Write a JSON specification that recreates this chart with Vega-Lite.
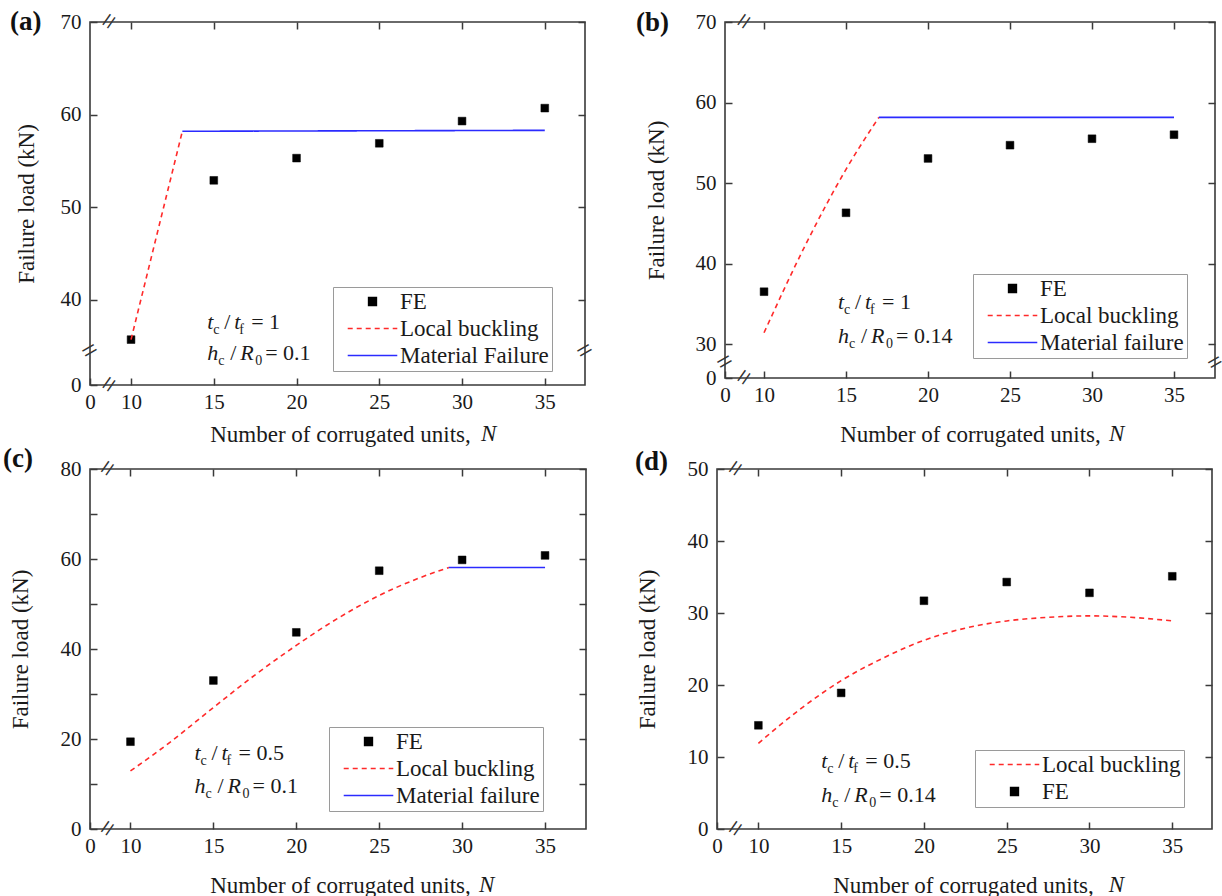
{
  "$schema": "https://vega.github.io/schema/vega-lite/v6.json",
  "padding": {"left": 2, "top": 6, "right": 2, "bottom": 2},
  "spacing": -4,
  "bounds": "full",
  "resolve": {"scale": {"fill": "independent", "stroke": "independent", "shape": "independent", "strokeDash": "independent"}, "legend": {"fill": "independent", "stroke": "independent", "shape": "independent", "strokeDash": "independent"}},
  "vconcat": [
    {
      "spacing": 140,
      "bounds": "flush",
      "resolve": {"scale": {"fill": "independent", "stroke": "independent", "shape": "independent", "strokeDash": "independent"}, "legend": {"fill": "independent", "stroke": "independent", "shape": "independent", "strokeDash": "independent"}},
      "hconcat": [
        {
          "width": 495, "height": 363,
          "title": {"text": "(a)", "dx": -80, "dy": 41, "baseline": "middle", "offset": 0},
          "layer": [
            {
              "data": {"values": [
                {"N": 10, "load": 35.7, "series": "FE"},
                {"N": 15, "load": 52.9, "series": "FE"},
                {"N": 20, "load": 55.3, "series": "FE"},
                {"N": 25, "load": 56.9, "series": "FE"},
                {"N": 30, "load": 59.3, "series": "FE"},
                {"N": 35, "load": 60.7, "series": "FE"}
              ]},
              "mark": {"type": "point", "filled": true, "size": 60, "opacity": 1, "strokeWidth": 0.5},
              "encoding": {
                "x": {"field": "N", "type": "quantitative", "scale": {"domain": [7.52, 37.43], "nice": false, "zero": false},
                      "axis": {"orient": "bottom", "values": [7.52, 10, 15, 20, 25, 30, 35], "labelExpr": "datum.value < 9 ? '0' : datum.label", "title": "Number of corrugated units,", "titleX": 250, "titleY": 49, "titleBaseline": "middle"}},
                "y": {"field": "load", "type": "quantitative", "scale": {"domain": [30.8, 70], "nice": false, "zero": false},
                      "axis": {"orient": "left", "values": [30.8, 40, 50, 60, 70], "labelExpr": "datum.value < 35 ? '0' : datum.label", "title": "Failure load (kN)", "titleX": -64, "titleBaseline": "middle"}},
                "fill": {"field": "series", "type": "nominal", "scale": {"domain": ["FE", "Local buckling", "Material Failure"], "range": ["#000000", "#ff2a2a", "#2b2bff"]}, "legend": {"title": null, "legendX": 243, "legendY": 265}},
                "stroke": {"field": "series", "type": "nominal", "scale": {"domain": ["FE", "Local buckling", "Material Failure"], "range": ["#000000", "#ff2a2a", "#2b2bff"]}, "legend": {"title": null, "legendX": 243, "legendY": 265}},
                "shape": {"field": "series", "type": "nominal", "scale": {"domain": ["FE", "Local buckling", "Material Failure"], "range": ["square", "M-6.4,0H6.4", "M-6.4,0H6.4"]}, "legend": {"title": null, "legendX": 243, "legendY": 265}}
              }
            },
            {
              "data": {"values": [
                {"N": 10, "load": 35.7, "series": "Local buckling"},
                {"N": 13.1, "load": 58.2, "series": "Local buckling"},
                {"N": 13.1, "load": 58.2, "series": "Material Failure"},
                {"N": 35, "load": 58.3, "series": "Material Failure"}
              ]},
              "mark": {"type": "line", "strokeWidth": 1.6, "interpolate": "monotone"},
              "encoding": {
                "x": {"field": "N", "type": "quantitative", "axis": {"orient": "top", "labels": false, "title": null, "values": [10, 15, 20, 25, 30, 35]}},
                "y": {"field": "load", "type": "quantitative", "axis": {"orient": "right", "labels": false, "title": null, "values": [40, 50, 60, 70]}},
                "stroke": {"field": "series", "type": "nominal", "scale": {"domain": ["FE", "Local buckling", "Material Failure"], "range": ["#000000", "#ff2a2a", "#2b2bff"]}, "legend": {"title": null, "legendX": 243, "legendY": 265}},
                "strokeDash": {"field": "series", "type": "nominal", "scale": {"domain": ["FE", "Local buckling", "Material Failure"], "range": [[1, 0], [5, 4], [1, 0]]}, "legend": {"title": null, "legendX": 243, "legendY": 265}}
              }
            },
            {"data": {"values": [{}]}, "mark": {"type": "text", "text": "=", "fontSize": 28, "angle": -55, "align": "center", "baseline": "middle", "color": "#333"}, "encoding": {"x": {"datum": 8.73, "type": "quantitative", "axis": null}, "y": {"datum": 70, "type": "quantitative", "axis": null}}},
            {"data": {"values": [{}]}, "mark": {"type": "text", "text": "=", "fontSize": 28, "angle": -55, "align": "center", "baseline": "middle", "color": "#333"}, "encoding": {"x": {"datum": 8.73, "type": "quantitative", "axis": null}, "y": {"datum": 30.8, "type": "quantitative", "axis": null}}},
            {"data": {"values": [{}]}, "mark": {"type": "text", "text": "=", "fontSize": 28, "angle": -30, "align": "center", "baseline": "middle", "color": "#333"}, "encoding": {"x": {"datum": 7.52, "type": "quantitative", "axis": null}, "y": {"datum": 34.44, "type": "quantitative", "axis": null}}},
            {"data": {"values": [{}]}, "mark": {"type": "text", "text": "=", "fontSize": 28, "angle": -30, "align": "center", "baseline": "middle", "color": "#333"}, "encoding": {"x": {"datum": 37.43, "type": "quantitative", "axis": null}, "y": {"datum": 34.44, "type": "quantitative", "axis": null}}},
            {"data": {"values": [{}]}, "mark": {"type": "text", "text": "N", "fontSize": 23, "fontStyle": "italic", "align": "left", "baseline": "middle", "dy": 49, "color": "#1a1a1a"}, "encoding": {"x": {"datum": 31.15, "type": "quantitative", "axis": null}, "y": {"datum": 30.8, "type": "quantitative", "axis": null}}},
            {"data": {"values": [{}]}, "mark": {"type": "text", "text": "t", "fontSize": 22, "fontStyle": "italic", "align": "left", "baseline": "alphabetic", "color": "#1a1a1a"}, "encoding": {"x": {"datum": 14.6, "type": "quantitative", "axis": null}, "y": {"datum": 36.9, "type": "quantitative", "axis": null}}},
            {"data": {"values": [{}]}, "mark": {"type": "text", "text": "c", "fontSize": 14, "align": "left", "baseline": "alphabetic", "dx": 6, "dy": 5, "color": "#1a1a1a"}, "encoding": {"x": {"datum": 14.6, "type": "quantitative", "axis": null}, "y": {"datum": 36.9, "type": "quantitative", "axis": null}}},
            {"data": {"values": [{}]}, "mark": {"type": "text", "text": "/", "fontSize": 22, "align": "left", "baseline": "alphabetic", "dx": 17, "color": "#1a1a1a"}, "encoding": {"x": {"datum": 14.6, "type": "quantitative", "axis": null}, "y": {"datum": 36.9, "type": "quantitative", "axis": null}}},
            {"data": {"values": [{}]}, "mark": {"type": "text", "text": "t", "fontSize": 22, "fontStyle": "italic", "align": "left", "baseline": "alphabetic", "dx": 27, "color": "#1a1a1a"}, "encoding": {"x": {"datum": 14.6, "type": "quantitative", "axis": null}, "y": {"datum": 36.9, "type": "quantitative", "axis": null}}},
            {"data": {"values": [{}]}, "mark": {"type": "text", "text": "f", "fontSize": 14, "align": "left", "baseline": "alphabetic", "dx": 32, "dy": 5, "color": "#1a1a1a"}, "encoding": {"x": {"datum": 14.6, "type": "quantitative", "axis": null}, "y": {"datum": 36.9, "type": "quantitative", "axis": null}}},
            {"data": {"values": [{}]}, "mark": {"type": "text", "text": "= 1", "fontSize": 22, "align": "left", "baseline": "alphabetic", "dx": 44, "color": "#1a1a1a"}, "encoding": {"x": {"datum": 14.6, "type": "quantitative", "axis": null}, "y": {"datum": 36.9, "type": "quantitative", "axis": null}}},
            {"data": {"values": [{}]}, "mark": {"type": "text", "text": "h", "fontSize": 22, "fontStyle": "italic", "align": "left", "baseline": "alphabetic", "dy": 31, "color": "#1a1a1a"}, "encoding": {"x": {"datum": 14.6, "type": "quantitative", "axis": null}, "y": {"datum": 36.9, "type": "quantitative", "axis": null}}},
            {"data": {"values": [{}]}, "mark": {"type": "text", "text": "c", "fontSize": 14, "align": "left", "baseline": "alphabetic", "dx": 11, "dy": 36, "color": "#1a1a1a"}, "encoding": {"x": {"datum": 14.6, "type": "quantitative", "axis": null}, "y": {"datum": 36.9, "type": "quantitative", "axis": null}}},
            {"data": {"values": [{}]}, "mark": {"type": "text", "text": "/", "fontSize": 22, "align": "left", "baseline": "alphabetic", "dx": 23, "dy": 31, "color": "#1a1a1a"}, "encoding": {"x": {"datum": 14.6, "type": "quantitative", "axis": null}, "y": {"datum": 36.9, "type": "quantitative", "axis": null}}},
            {"data": {"values": [{}]}, "mark": {"type": "text", "text": "R", "fontSize": 22, "fontStyle": "italic", "align": "left", "baseline": "alphabetic", "dx": 33, "dy": 31, "color": "#1a1a1a"}, "encoding": {"x": {"datum": 14.6, "type": "quantitative", "axis": null}, "y": {"datum": 36.9, "type": "quantitative", "axis": null}}},
            {"data": {"values": [{}]}, "mark": {"type": "text", "text": "0", "fontSize": 14, "align": "left", "baseline": "alphabetic", "dx": 48, "dy": 36, "color": "#1a1a1a"}, "encoding": {"x": {"datum": 14.6, "type": "quantitative", "axis": null}, "y": {"datum": 36.9, "type": "quantitative", "axis": null}}},
            {"data": {"values": [{}]}, "mark": {"type": "text", "text": "= 0.1", "fontSize": 22, "align": "left", "baseline": "alphabetic", "dx": 58, "dy": 31, "color": "#1a1a1a"}, "encoding": {"x": {"datum": 14.6, "type": "quantitative", "axis": null}, "y": {"datum": 36.9, "type": "quantitative", "axis": null}}}
          ],
          "resolve": {"axis": {"x": "independent", "y": "independent"}}
        },
        {
          "width": 490, "height": 356,
          "title": {"text": "(b)", "dx": -89, "dy": 42, "baseline": "middle", "offset": 0},
          "layer": [
            {
              "data": {"values": [
                {"N": 10, "load": 36.5, "series": "FE"},
                {"N": 15, "load": 46.3, "series": "FE"},
                {"N": 20, "load": 53.05, "series": "FE"},
                {"N": 25, "load": 54.7, "series": "FE"},
                {"N": 30, "load": 55.5, "series": "FE"},
                {"N": 35, "load": 56.0, "series": "FE"}
              ]},
              "mark": {"type": "point", "filled": true, "size": 60, "opacity": 1, "strokeWidth": 0.5},
              "encoding": {
                "x": {"field": "N", "type": "quantitative", "scale": {"domain": [7.62, 37.5], "nice": false, "zero": false},
                      "axis": {"orient": "bottom", "values": [7.62, 10, 15, 20, 25, 30, 35], "labelExpr": "datum.value < 9 ? '0' : datum.label", "title": "Number of corrugated units,", "titleX": 245, "titleY": 56, "titleBaseline": "middle"}},
                "y": {"field": "load", "type": "quantitative", "scale": {"domain": [25.78, 70], "nice": false, "zero": false},
                      "axis": {"orient": "left", "values": [25.78, 30, 40, 50, 60, 70], "labelExpr": "datum.value < 28 ? '0' : datum.label", "title": "Failure load (kN)", "titleX": -69, "titleBaseline": "middle"}},
                "fill": {"field": "series", "type": "nominal", "scale": {"domain": ["FE", "Local buckling", "Material failure"], "range": ["#000000", "#ff2a2a", "#2b2bff"]}, "legend": {"title": null, "legendX": 248, "legendY": 252}},
                "stroke": {"field": "series", "type": "nominal", "scale": {"domain": ["FE", "Local buckling", "Material failure"], "range": ["#000000", "#ff2a2a", "#2b2bff"]}, "legend": {"title": null, "legendX": 248, "legendY": 252}},
                "shape": {"field": "series", "type": "nominal", "scale": {"domain": ["FE", "Local buckling", "Material failure"], "range": ["square", "M-6.4,0H6.4", "M-6.4,0H6.4"]}, "legend": {"title": null, "legendX": 248, "legendY": 252}}
              }
            },
            {
              "data": {"values": [
                {"N": 10, "load": 31.4, "series": "Local buckling"},
                {"N": 12.5, "load": 42.2, "series": "Local buckling"},
                {"N": 15, "load": 51.7, "series": "Local buckling"},
                {"N": 17, "load": 58.15, "series": "Local buckling"},
                {"N": 17, "load": 58.15, "series": "Material failure"},
                {"N": 35, "load": 58.15, "series": "Material failure"}
              ]},
              "mark": {"type": "line", "strokeWidth": 1.6, "interpolate": "monotone"},
              "encoding": {
                "x": {"field": "N", "type": "quantitative", "axis": {"orient": "top", "labels": false, "title": null, "values": [10, 15, 20, 25, 30, 35]}},
                "y": {"field": "load", "type": "quantitative", "axis": {"orient": "right", "labels": false, "title": null, "values": [30, 40, 50, 60, 70]}},
                "stroke": {"field": "series", "type": "nominal", "scale": {"domain": ["FE", "Local buckling", "Material failure"], "range": ["#000000", "#ff2a2a", "#2b2bff"]}, "legend": {"title": null, "legendX": 248, "legendY": 252}},
                "strokeDash": {"field": "series", "type": "nominal", "scale": {"domain": ["FE", "Local buckling", "Material failure"], "range": [[1, 0], [5, 4], [1, 0]]}, "legend": {"title": null, "legendX": 248, "legendY": 252}}
              }
            },
            {"data": {"values": [{}]}, "mark": {"type": "text", "text": "=", "fontSize": 28, "angle": -55, "align": "center", "baseline": "middle", "color": "#333"}, "encoding": {"x": {"datum": 8.84, "type": "quantitative", "axis": null}, "y": {"datum": 70, "type": "quantitative", "axis": null}}},
            {"data": {"values": [{}]}, "mark": {"type": "text", "text": "=", "fontSize": 28, "angle": -55, "align": "center", "baseline": "middle", "color": "#333"}, "encoding": {"x": {"datum": 8.84, "type": "quantitative", "axis": null}, "y": {"datum": 25.78, "type": "quantitative", "axis": null}}},
            {"data": {"values": [{}]}, "mark": {"type": "text", "text": "=", "fontSize": 28, "angle": -30, "align": "center", "baseline": "middle", "color": "#333"}, "encoding": {"x": {"datum": 7.62, "type": "quantitative", "axis": null}, "y": {"datum": 27.68, "type": "quantitative", "axis": null}}},
            {"data": {"values": [{}]}, "mark": {"type": "text", "text": "=", "fontSize": 26, "angle": -30, "align": "center", "baseline": "middle", "color": "#333"}, "encoding": {"x": {"datum": 37.5, "type": "quantitative", "axis": null}, "y": {"datum": 27.68, "type": "quantitative", "axis": null}}},
            {"data": {"values": [{}]}, "mark": {"type": "text", "text": "N", "fontSize": 23, "fontStyle": "italic", "align": "left", "baseline": "middle", "dy": 56, "color": "#1a1a1a"}, "encoding": {"x": {"datum": 31.04, "type": "quantitative", "axis": null}, "y": {"datum": 25.78, "type": "quantitative", "axis": null}}},
            {"data": {"values": [{}]}, "mark": {"type": "text", "text": "t", "fontSize": 22, "fontStyle": "italic", "align": "left", "baseline": "alphabetic", "color": "#1a1a1a"}, "encoding": {"x": {"datum": 14.51, "type": "quantitative", "axis": null}, "y": {"datum": 34.35, "type": "quantitative", "axis": null}}},
            {"data": {"values": [{}]}, "mark": {"type": "text", "text": "c", "fontSize": 14, "align": "left", "baseline": "alphabetic", "dx": 6, "dy": 5, "color": "#1a1a1a"}, "encoding": {"x": {"datum": 14.51, "type": "quantitative", "axis": null}, "y": {"datum": 34.35, "type": "quantitative", "axis": null}}},
            {"data": {"values": [{}]}, "mark": {"type": "text", "text": "/", "fontSize": 22, "align": "left", "baseline": "alphabetic", "dx": 17, "color": "#1a1a1a"}, "encoding": {"x": {"datum": 14.51, "type": "quantitative", "axis": null}, "y": {"datum": 34.35, "type": "quantitative", "axis": null}}},
            {"data": {"values": [{}]}, "mark": {"type": "text", "text": "t", "fontSize": 22, "fontStyle": "italic", "align": "left", "baseline": "alphabetic", "dx": 27, "color": "#1a1a1a"}, "encoding": {"x": {"datum": 14.51, "type": "quantitative", "axis": null}, "y": {"datum": 34.35, "type": "quantitative", "axis": null}}},
            {"data": {"values": [{}]}, "mark": {"type": "text", "text": "f", "fontSize": 14, "align": "left", "baseline": "alphabetic", "dx": 32, "dy": 5, "color": "#1a1a1a"}, "encoding": {"x": {"datum": 14.51, "type": "quantitative", "axis": null}, "y": {"datum": 34.35, "type": "quantitative", "axis": null}}},
            {"data": {"values": [{}]}, "mark": {"type": "text", "text": "= 1", "fontSize": 22, "align": "left", "baseline": "alphabetic", "dx": 44, "color": "#1a1a1a"}, "encoding": {"x": {"datum": 14.51, "type": "quantitative", "axis": null}, "y": {"datum": 34.35, "type": "quantitative", "axis": null}}},
            {"data": {"values": [{}]}, "mark": {"type": "text", "text": "h", "fontSize": 22, "fontStyle": "italic", "align": "left", "baseline": "alphabetic", "dy": 34, "color": "#1a1a1a"}, "encoding": {"x": {"datum": 14.51, "type": "quantitative", "axis": null}, "y": {"datum": 34.35, "type": "quantitative", "axis": null}}},
            {"data": {"values": [{}]}, "mark": {"type": "text", "text": "c", "fontSize": 14, "align": "left", "baseline": "alphabetic", "dx": 11, "dy": 39, "color": "#1a1a1a"}, "encoding": {"x": {"datum": 14.51, "type": "quantitative", "axis": null}, "y": {"datum": 34.35, "type": "quantitative", "axis": null}}},
            {"data": {"values": [{}]}, "mark": {"type": "text", "text": "/", "fontSize": 22, "align": "left", "baseline": "alphabetic", "dx": 23, "dy": 34, "color": "#1a1a1a"}, "encoding": {"x": {"datum": 14.51, "type": "quantitative", "axis": null}, "y": {"datum": 34.35, "type": "quantitative", "axis": null}}},
            {"data": {"values": [{}]}, "mark": {"type": "text", "text": "R", "fontSize": 22, "fontStyle": "italic", "align": "left", "baseline": "alphabetic", "dx": 33, "dy": 34, "color": "#1a1a1a"}, "encoding": {"x": {"datum": 14.51, "type": "quantitative", "axis": null}, "y": {"datum": 34.35, "type": "quantitative", "axis": null}}},
            {"data": {"values": [{}]}, "mark": {"type": "text", "text": "0", "fontSize": 14, "align": "left", "baseline": "alphabetic", "dx": 48, "dy": 39, "color": "#1a1a1a"}, "encoding": {"x": {"datum": 14.51, "type": "quantitative", "axis": null}, "y": {"datum": 34.35, "type": "quantitative", "axis": null}}},
            {"data": {"values": [{}]}, "mark": {"type": "text", "text": "= 0.14", "fontSize": 22, "align": "left", "baseline": "alphabetic", "dx": 58, "dy": 34, "color": "#1a1a1a"}, "encoding": {"x": {"datum": 14.51, "type": "quantitative", "axis": null}, "y": {"datum": 34.35, "type": "quantitative", "axis": null}}}
          ],
          "resolve": {"axis": {"x": "independent", "y": "independent"}}
        }
      ]
    },
    {
      "spacing": 131,
      "bounds": "flush",
      "resolve": {"scale": {"fill": "independent", "stroke": "independent", "shape": "independent", "strokeDash": "independent"}, "legend": {"fill": "independent", "stroke": "independent", "shape": "independent", "strokeDash": "independent"}},
      "hconcat": [
        {
          "width": 496, "height": 360,
          "title": {"text": "(c)", "dx": -87, "dy": 31, "baseline": "middle", "offset": 0},
          "layer": [
            {
              "data": {"values": [
                {"N": 10, "load": 19.4, "series": "FE"},
                {"N": 15, "load": 33.0, "series": "FE"},
                {"N": 20, "load": 43.7, "series": "FE"},
                {"N": 25, "load": 57.4, "series": "FE"},
                {"N": 30, "load": 59.8, "series": "FE"},
                {"N": 35, "load": 60.8, "series": "FE"}
              ]},
              "mark": {"type": "point", "filled": true, "size": 60, "opacity": 1, "strokeWidth": 0.5},
              "encoding": {
                "x": {"field": "N", "type": "quantitative", "scale": {"domain": [7.56, 37.47], "nice": false, "zero": false},
                      "axis": {"orient": "bottom", "values": [7.56, 10, 15, 20, 25, 30, 35], "labelExpr": "datum.value < 9 ? '0' : datum.label", "title": "Number of corrugated units,", "titleX": 250, "titleY": 56, "titleBaseline": "middle"}},
                "y": {"field": "load", "type": "quantitative", "scale": {"domain": [0, 80], "nice": false, "zero": false},
                      "axis": {"orient": "left", "values": [0, 10, 20, 30, 40, 50, 60, 70, 80], "labelExpr": "datum.value % 20 === 0 ? datum.label : ''", "title": "Failure load (kN)", "titleX": -70, "titleBaseline": "middle"}},
                "fill": {"field": "series", "type": "nominal", "scale": {"domain": ["FE", "Local buckling", "Material failure"], "range": ["#000000", "#ff2a2a", "#2b2bff"]}, "legend": {"title": null, "legendX": 239, "legendY": 258}},
                "stroke": {"field": "series", "type": "nominal", "scale": {"domain": ["FE", "Local buckling", "Material failure"], "range": ["#000000", "#ff2a2a", "#2b2bff"]}, "legend": {"title": null, "legendX": 239, "legendY": 258}},
                "shape": {"field": "series", "type": "nominal", "scale": {"domain": ["FE", "Local buckling", "Material failure"], "range": ["square", "M-6.4,0H6.4", "M-6.4,0H6.4"]}, "legend": {"title": null, "legendX": 239, "legendY": 258}}
              }
            },
            {
              "data": {"values": [
                {"N": 10, "load": 12.9, "series": "Local buckling"},
                {"N": 12.5, "load": 19.6, "series": "Local buckling"},
                {"N": 15, "load": 27.0, "series": "Local buckling"},
                {"N": 17.5, "load": 34.2, "series": "Local buckling"},
                {"N": 20, "load": 40.8, "series": "Local buckling"},
                {"N": 22.5, "load": 46.8, "series": "Local buckling"},
                {"N": 25, "load": 51.9, "series": "Local buckling"},
                {"N": 27.5, "load": 55.9, "series": "Local buckling"},
                {"N": 29.2, "load": 58.1, "series": "Local buckling"},
                {"N": 29.2, "load": 58.1, "series": "Material failure"},
                {"N": 35, "load": 58.1, "series": "Material failure"}
              ]},
              "mark": {"type": "line", "strokeWidth": 1.6, "interpolate": "monotone"},
              "encoding": {
                "x": {"field": "N", "type": "quantitative", "axis": {"orient": "top", "labels": false, "title": null, "values": [10, 15, 20, 25, 30, 35]}},
                "y": {"field": "load", "type": "quantitative", "axis": {"orient": "right", "labels": false, "title": null, "values": [10, 20, 30, 40, 50, 60, 70, 80]}},
                "stroke": {"field": "series", "type": "nominal", "scale": {"domain": ["FE", "Local buckling", "Material failure"], "range": ["#000000", "#ff2a2a", "#2b2bff"]}, "legend": {"title": null, "legendX": 239, "legendY": 258}},
                "strokeDash": {"field": "series", "type": "nominal", "scale": {"domain": ["FE", "Local buckling", "Material failure"], "range": [[1, 0], [5, 4], [1, 0]]}, "legend": {"title": null, "legendX": 239, "legendY": 258}}
              }
            },
            {"data": {"values": [{}]}, "mark": {"type": "text", "text": "=", "fontSize": 28, "angle": -55, "align": "center", "baseline": "middle", "color": "#333"}, "encoding": {"x": {"datum": 8.68, "type": "quantitative", "axis": null}, "y": {"datum": 80, "type": "quantitative", "axis": null}}},
            {"data": {"values": [{}]}, "mark": {"type": "text", "text": "=", "fontSize": 28, "angle": -55, "align": "center", "baseline": "middle", "color": "#333"}, "encoding": {"x": {"datum": 8.68, "type": "quantitative", "axis": null}, "y": {"datum": 0, "type": "quantitative", "axis": null}}},
            {"data": {"values": [{}]}, "mark": {"type": "text", "text": "N", "fontSize": 23, "fontStyle": "italic", "align": "left", "baseline": "middle", "dy": 56, "color": "#1a1a1a"}, "encoding": {"x": {"datum": 31.02, "type": "quantitative", "axis": null}, "y": {"datum": 0, "type": "quantitative", "axis": null}}},
            {"data": {"values": [{}]}, "mark": {"type": "text", "text": "t", "fontSize": 22, "fontStyle": "italic", "align": "left", "baseline": "alphabetic", "color": "#1a1a1a"}, "encoding": {"x": {"datum": 13.86, "type": "quantitative", "axis": null}, "y": {"datum": 15.3, "type": "quantitative", "axis": null}}},
            {"data": {"values": [{}]}, "mark": {"type": "text", "text": "c", "fontSize": 14, "align": "left", "baseline": "alphabetic", "dx": 6, "dy": 5, "color": "#1a1a1a"}, "encoding": {"x": {"datum": 13.86, "type": "quantitative", "axis": null}, "y": {"datum": 15.3, "type": "quantitative", "axis": null}}},
            {"data": {"values": [{}]}, "mark": {"type": "text", "text": "/", "fontSize": 22, "align": "left", "baseline": "alphabetic", "dx": 17, "color": "#1a1a1a"}, "encoding": {"x": {"datum": 13.86, "type": "quantitative", "axis": null}, "y": {"datum": 15.3, "type": "quantitative", "axis": null}}},
            {"data": {"values": [{}]}, "mark": {"type": "text", "text": "t", "fontSize": 22, "fontStyle": "italic", "align": "left", "baseline": "alphabetic", "dx": 27, "color": "#1a1a1a"}, "encoding": {"x": {"datum": 13.86, "type": "quantitative", "axis": null}, "y": {"datum": 15.3, "type": "quantitative", "axis": null}}},
            {"data": {"values": [{}]}, "mark": {"type": "text", "text": "f", "fontSize": 14, "align": "left", "baseline": "alphabetic", "dx": 32, "dy": 5, "color": "#1a1a1a"}, "encoding": {"x": {"datum": 13.86, "type": "quantitative", "axis": null}, "y": {"datum": 15.3, "type": "quantitative", "axis": null}}},
            {"data": {"values": [{}]}, "mark": {"type": "text", "text": "= 0.5", "fontSize": 22, "align": "left", "baseline": "alphabetic", "dx": 44, "color": "#1a1a1a"}, "encoding": {"x": {"datum": 13.86, "type": "quantitative", "axis": null}, "y": {"datum": 15.3, "type": "quantitative", "axis": null}}},
            {"data": {"values": [{}]}, "mark": {"type": "text", "text": "h", "fontSize": 22, "fontStyle": "italic", "align": "left", "baseline": "alphabetic", "dy": 33, "color": "#1a1a1a"}, "encoding": {"x": {"datum": 13.86, "type": "quantitative", "axis": null}, "y": {"datum": 15.3, "type": "quantitative", "axis": null}}},
            {"data": {"values": [{}]}, "mark": {"type": "text", "text": "c", "fontSize": 14, "align": "left", "baseline": "alphabetic", "dx": 11, "dy": 38, "color": "#1a1a1a"}, "encoding": {"x": {"datum": 13.86, "type": "quantitative", "axis": null}, "y": {"datum": 15.3, "type": "quantitative", "axis": null}}},
            {"data": {"values": [{}]}, "mark": {"type": "text", "text": "/", "fontSize": 22, "align": "left", "baseline": "alphabetic", "dx": 23, "dy": 33, "color": "#1a1a1a"}, "encoding": {"x": {"datum": 13.86, "type": "quantitative", "axis": null}, "y": {"datum": 15.3, "type": "quantitative", "axis": null}}},
            {"data": {"values": [{}]}, "mark": {"type": "text", "text": "R", "fontSize": 22, "fontStyle": "italic", "align": "left", "baseline": "alphabetic", "dx": 33, "dy": 33, "color": "#1a1a1a"}, "encoding": {"x": {"datum": 13.86, "type": "quantitative", "axis": null}, "y": {"datum": 15.3, "type": "quantitative", "axis": null}}},
            {"data": {"values": [{}]}, "mark": {"type": "text", "text": "0", "fontSize": 14, "align": "left", "baseline": "alphabetic", "dx": 48, "dy": 38, "color": "#1a1a1a"}, "encoding": {"x": {"datum": 13.86, "type": "quantitative", "axis": null}, "y": {"datum": 15.3, "type": "quantitative", "axis": null}}},
            {"data": {"values": [{}]}, "mark": {"type": "text", "text": "= 0.1", "fontSize": 22, "align": "left", "baseline": "alphabetic", "dx": 58, "dy": 33, "color": "#1a1a1a"}, "encoding": {"x": {"datum": 13.86, "type": "quantitative", "axis": null}, "y": {"datum": 15.3, "type": "quantitative", "axis": null}}}
          ],
          "resolve": {"axis": {"x": "independent", "y": "independent"}}
        },
        {
          "width": 495, "height": 360,
          "title": {"text": "(d)", "dx": -82, "dy": 34, "baseline": "middle", "offset": 0},
          "layer": [
            {
              "data": {"values": [
                {"N": 10, "load": 14.4, "series": "FE"},
                {"N": 15, "load": 18.9, "series": "FE"},
                {"N": 20, "load": 31.7, "series": "FE"},
                {"N": 25, "load": 34.3, "series": "FE"},
                {"N": 30, "load": 32.8, "series": "FE"},
                {"N": 35, "load": 35.1, "series": "FE"}
              ]},
              "mark": {"type": "point", "filled": true, "size": 60, "opacity": 1, "strokeWidth": 0.5},
              "encoding": {
                "x": {"field": "N", "type": "quantitative", "scale": {"domain": [7.5, 37.4], "nice": false, "zero": false},
                      "axis": {"orient": "bottom", "values": [7.5, 10, 15, 20, 25, 30, 35], "labelExpr": "datum.value < 9 ? '0' : datum.label", "title": "Number of corrugated units,", "titleX": 246, "titleY": 56, "titleBaseline": "middle"}},
                "y": {"field": "load", "type": "quantitative", "scale": {"domain": [0, 50], "nice": false, "zero": false},
                      "axis": {"orient": "left", "values": [0, 10, 20, 30, 40, 50], "title": "Failure load (kN)", "titleX": -70, "titleBaseline": "middle"}},
                "fill": {"field": "series", "type": "nominal", "scale": {"domain": ["Local buckling", "FE"], "range": ["#ff2a2a", "#000000"]}, "legend": {"title": null, "legendX": 258, "legendY": 281}},
                "stroke": {"field": "series", "type": "nominal", "scale": {"domain": ["Local buckling", "FE"], "range": ["#ff2a2a", "#000000"]}, "legend": {"title": null, "legendX": 258, "legendY": 281}},
                "shape": {"field": "series", "type": "nominal", "scale": {"domain": ["Local buckling", "FE"], "range": ["M-6.4,0H6.4", "square"]}, "legend": {"title": null, "legendX": 258, "legendY": 281}}
              }
            },
            {
              "data": {"values": [
                {"N": 10, "load": 11.9, "series": "Local buckling"},
                {"N": 12.5, "load": 16.6, "series": "Local buckling"},
                {"N": 15, "load": 20.6, "series": "Local buckling"},
                {"N": 17.5, "load": 23.7, "series": "Local buckling"},
                {"N": 20, "load": 26.2, "series": "Local buckling"},
                {"N": 22.5, "load": 27.9, "series": "Local buckling"},
                {"N": 25, "load": 28.9, "series": "Local buckling"},
                {"N": 27.5, "load": 29.4, "series": "Local buckling"},
                {"N": 30, "load": 29.6, "series": "Local buckling"},
                {"N": 32.5, "load": 29.4, "series": "Local buckling"},
                {"N": 35, "load": 28.9, "series": "Local buckling"}
              ]},
              "mark": {"type": "line", "strokeWidth": 1.6, "interpolate": "monotone"},
              "encoding": {
                "x": {"field": "N", "type": "quantitative", "axis": {"orient": "top", "labels": false, "title": null, "values": [10, 15, 20, 25, 30, 35]}},
                "y": {"field": "load", "type": "quantitative", "axis": {"orient": "right", "labels": false, "title": null, "values": [10, 20, 30, 40, 50]}},
                "stroke": {"field": "series", "type": "nominal", "scale": {"domain": ["Local buckling", "FE"], "range": ["#ff2a2a", "#000000"]}, "legend": {"title": null, "legendX": 258, "legendY": 281}},
                "strokeDash": {"field": "series", "type": "nominal", "scale": {"domain": ["Local buckling", "FE"], "range": [[5, 4], [1, 0]]}, "legend": {"title": null, "legendX": 258, "legendY": 281}}
              }
            },
            {"data": {"values": [{}]}, "mark": {"type": "text", "text": "=", "fontSize": 28, "angle": -55, "align": "center", "baseline": "middle", "color": "#333"}, "encoding": {"x": {"datum": 8.67, "type": "quantitative", "axis": null}, "y": {"datum": 50, "type": "quantitative", "axis": null}}},
            {"data": {"values": [{}]}, "mark": {"type": "text", "text": "=", "fontSize": 28, "angle": -55, "align": "center", "baseline": "middle", "color": "#333"}, "encoding": {"x": {"datum": 8.67, "type": "quantitative", "axis": null}, "y": {"datum": 0, "type": "quantitative", "axis": null}}},
            {"data": {"values": [{}]}, "mark": {"type": "text", "text": "N", "fontSize": 23, "fontStyle": "italic", "align": "left", "baseline": "middle", "dy": 56, "color": "#1a1a1a"}, "encoding": {"x": {"datum": 31.17, "type": "quantitative", "axis": null}, "y": {"datum": 0, "type": "quantitative", "axis": null}}},
            {"data": {"values": [{}]}, "mark": {"type": "text", "text": "t", "fontSize": 22, "fontStyle": "italic", "align": "left", "baseline": "alphabetic", "color": "#1a1a1a"}, "encoding": {"x": {"datum": 13.8, "type": "quantitative", "axis": null}, "y": {"datum": 8.47, "type": "quantitative", "axis": null}}},
            {"data": {"values": [{}]}, "mark": {"type": "text", "text": "c", "fontSize": 14, "align": "left", "baseline": "alphabetic", "dx": 6, "dy": 5, "color": "#1a1a1a"}, "encoding": {"x": {"datum": 13.8, "type": "quantitative", "axis": null}, "y": {"datum": 8.47, "type": "quantitative", "axis": null}}},
            {"data": {"values": [{}]}, "mark": {"type": "text", "text": "/", "fontSize": 22, "align": "left", "baseline": "alphabetic", "dx": 17, "color": "#1a1a1a"}, "encoding": {"x": {"datum": 13.8, "type": "quantitative", "axis": null}, "y": {"datum": 8.47, "type": "quantitative", "axis": null}}},
            {"data": {"values": [{}]}, "mark": {"type": "text", "text": "t", "fontSize": 22, "fontStyle": "italic", "align": "left", "baseline": "alphabetic", "dx": 27, "color": "#1a1a1a"}, "encoding": {"x": {"datum": 13.8, "type": "quantitative", "axis": null}, "y": {"datum": 8.47, "type": "quantitative", "axis": null}}},
            {"data": {"values": [{}]}, "mark": {"type": "text", "text": "f", "fontSize": 14, "align": "left", "baseline": "alphabetic", "dx": 32, "dy": 5, "color": "#1a1a1a"}, "encoding": {"x": {"datum": 13.8, "type": "quantitative", "axis": null}, "y": {"datum": 8.47, "type": "quantitative", "axis": null}}},
            {"data": {"values": [{}]}, "mark": {"type": "text", "text": "= 0.5", "fontSize": 22, "align": "left", "baseline": "alphabetic", "dx": 44, "color": "#1a1a1a"}, "encoding": {"x": {"datum": 13.8, "type": "quantitative", "axis": null}, "y": {"datum": 8.47, "type": "quantitative", "axis": null}}},
            {"data": {"values": [{}]}, "mark": {"type": "text", "text": "h", "fontSize": 22, "fontStyle": "italic", "align": "left", "baseline": "alphabetic", "dy": 34, "color": "#1a1a1a"}, "encoding": {"x": {"datum": 13.8, "type": "quantitative", "axis": null}, "y": {"datum": 8.47, "type": "quantitative", "axis": null}}},
            {"data": {"values": [{}]}, "mark": {"type": "text", "text": "c", "fontSize": 14, "align": "left", "baseline": "alphabetic", "dx": 11, "dy": 39, "color": "#1a1a1a"}, "encoding": {"x": {"datum": 13.8, "type": "quantitative", "axis": null}, "y": {"datum": 8.47, "type": "quantitative", "axis": null}}},
            {"data": {"values": [{}]}, "mark": {"type": "text", "text": "/", "fontSize": 22, "align": "left", "baseline": "alphabetic", "dx": 23, "dy": 34, "color": "#1a1a1a"}, "encoding": {"x": {"datum": 13.8, "type": "quantitative", "axis": null}, "y": {"datum": 8.47, "type": "quantitative", "axis": null}}},
            {"data": {"values": [{}]}, "mark": {"type": "text", "text": "R", "fontSize": 22, "fontStyle": "italic", "align": "left", "baseline": "alphabetic", "dx": 33, "dy": 34, "color": "#1a1a1a"}, "encoding": {"x": {"datum": 13.8, "type": "quantitative", "axis": null}, "y": {"datum": 8.47, "type": "quantitative", "axis": null}}},
            {"data": {"values": [{}]}, "mark": {"type": "text", "text": "0", "fontSize": 14, "align": "left", "baseline": "alphabetic", "dx": 48, "dy": 39, "color": "#1a1a1a"}, "encoding": {"x": {"datum": 13.8, "type": "quantitative", "axis": null}, "y": {"datum": 8.47, "type": "quantitative", "axis": null}}},
            {"data": {"values": [{}]}, "mark": {"type": "text", "text": "= 0.14", "fontSize": 22, "align": "left", "baseline": "alphabetic", "dx": 58, "dy": 34, "color": "#1a1a1a"}, "encoding": {"x": {"datum": 13.8, "type": "quantitative", "axis": null}, "y": {"datum": 8.47, "type": "quantitative", "axis": null}}}
          ],
          "resolve": {"axis": {"x": "independent", "y": "independent"}}
        }
      ]
    }
  ],
  "config": {
    "font": "Liberation Serif",
    "view": {"stroke": "#3a3a3a", "strokeWidth": 1.6},
    "text": {"font": "Liberation Serif", "fontWeight": "normal"},
    "axis": {"domain": false, "grid": false, "labelFont": "Liberation Serif", "labelFontSize": 21, "labelColor": "#1a1a1a", "titleFont": "Liberation Serif", "titleFontSize": 23, "titleFontWeight": "normal", "titleColor": "#1a1a1a", "tickColor": "#3a3a3a", "tickWidth": 1.5, "tickSize": -7, "labelFlush": false, "labelOverlap": false},
    "axisBottom": {"labelPadding": 13},
    "axisLeft": {"labelPadding": 16},
    "legend": {"orient": "none", "strokeColor": "#9a9a9a", "padding": 3, "labelFont": "Liberation Serif", "labelFontSize": 23, "labelColor": "#1a1a1a", "symbolStrokeWidth": 1.6, "symbolSize": 60, "rowPadding": 3, "labelOffset": 16, "symbolOffset": 25},
    "title": {"font": "Liberation Serif", "fontSize": 27, "fontWeight": "bold", "anchor": "start", "frame": "group", "color": "#111111"}
  }
}
